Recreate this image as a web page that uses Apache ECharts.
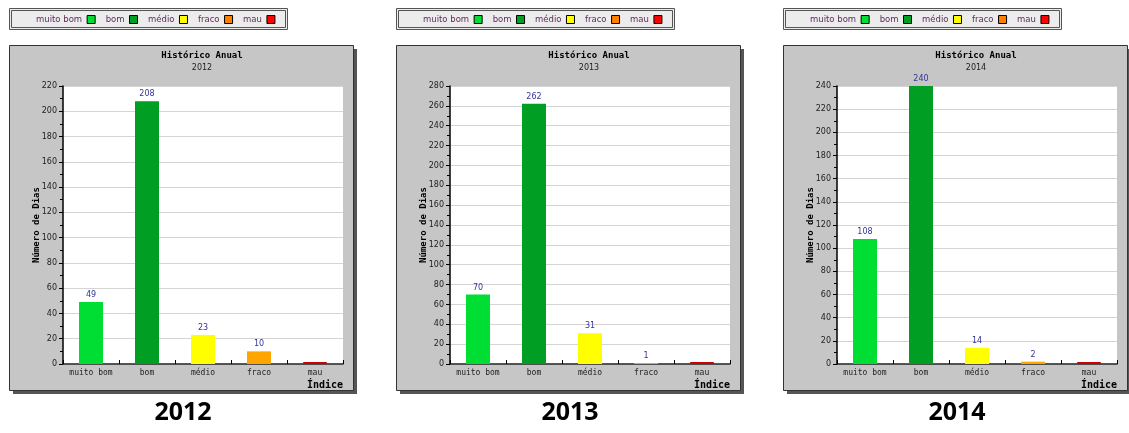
<!DOCTYPE html>
<html><head><meta charset="utf-8">
<script src="https://cdn.jsdelivr.net/npm/echarts@6/dist/echarts.min.js"></script>
<style>html,body{margin:0;padding:0;background:#fff}#c{width:1129px;height:433px}</style>
</head><body><div id="c"></div>
<script>
const categories = ['muito bom', 'bom', 'médio', 'fraco', 'mau'];
const years = ['2012', '2013', '2014'];
const values2012 = [49, 208, 23, 10, 0];
const values2013 = [70, 262, 31, 1, 0];
const values2014 = [108, 240, 14, 2, 0];
const yMaxByYear = [220, 280, 240];
const yInterval = 20;
const chartTitle = 'Histórico Anual';
const yAxisTitle = 'Número de Dias';
const xAxisTitle = 'Índice';
const barColors = ['#00dd33', '#009f24', '#ffff00', '#ffa500', '#cc0000'];
const legendColors = ['#00dd33', '#009f24', '#ffff00', '#ff7f00', '#ff0000'];

const allValues = [values2012, values2013, values2014];
const panelStep = 387, panelX0 = 9, panelW = 344, panelTop = 45, panelH = 345;
const MONO = '"DejaVu Sans Mono", monospace';
const SANS = '"DejaVu Sans", sans-serif';

const grids = [], xAxes = [], yAxes = [], series = [], legends = [], titles = [], graphics = [];

years.forEach((yr, i) => {
  const px = panelX0 + panelStep * i;
  graphics.push({type: 'rect', z: -10, shape: {x: px + 4, y: panelTop + 4, width: panelW, height: panelH}, style: {fill: '#555'}});
  graphics.push({type: 'rect', z: -9, shape: {x: px + 0.5, y: panelTop + 0.5, width: panelW, height: panelH}, style: {fill: '#c6c6c6', stroke: '#333', lineWidth: 1}});
  graphics.push({type: 'rect', z: -9, shape: {x: px + 0.5, y: 8.5, width: 278, height: 21}, style: {fill: '#ececec', stroke: '#555', lineWidth: 1}});
  graphics.push({type: 'rect', z: -8, shape: {x: px + 2.5, y: 10.5, width: 274, height: 17}, style: {fill: 'none', stroke: '#555', lineWidth: 1}});

  grids.push({left: px + 54, top: 86, width: 280, height: 278, show: true, backgroundColor: '#fff', borderWidth: 0});
  xAxes.push({
    type: 'category', gridIndex: i, data: categories,
    axisLine: {lineStyle: {color: '#222', width: 1.5}},
    axisTick: {show: true, inside: true, length: 4, lineStyle: {color: '#000'}},
    axisLabel: {interval: 0, fontFamily: MONO, fontSize: 8, color: '#222', margin: 5},
    name: xAxisTitle, nameLocation: 'end', nameGap: 0, nameMoveOverlap: false,
    nameTextStyle: {fontFamily: MONO, fontSize: 10, fontWeight: 'bold', color: '#000', align: 'right', verticalAlign: 'top', padding: [16, 0, 0, 0]}
  });
  yAxes.push({
    type: 'value', gridIndex: i, min: 0, max: yMaxByYear[i], interval: yInterval,
    axisLine: {show: true, lineStyle: {color: '#000', width: 1.5}},
    axisTick: {show: true, length: 4, lineStyle: {color: '#000'}},
    minorTick: {show: true, splitNumber: 2, length: 3, lineStyle: {color: '#000'}},
    axisLabel: {fontFamily: SANS, fontSize: 8, color: '#222', margin: 6},
    splitLine: {lineStyle: {color: '#d4d4d4', width: 1}},
    name: yAxisTitle, nameLocation: 'middle', nameGap: 22, nameRotate: 90, nameMoveOverlap: false,
    nameTextStyle: {fontFamily: MONO, fontSize: 9, fontWeight: 'bold', color: '#000'}
  });
  categories.forEach((cat, j) => {
    series.push({
      type: 'bar', name: cat, xAxisIndex: i, yAxisIndex: i, stack: 's' + i,
      barWidth: 24, barMinHeight: j === 4 ? 2 : 0,
      itemStyle: j === 4 ? {color: barColors[j], borderColor: barColors[j], borderWidth: 1} : {color: barColors[j]},
      label: {show: true, position: 'top', distance: 3, fontFamily: SANS, fontSize: 8, color: '#33339a',
        formatter: p => (p.value ? String(p.value) : '')},
      data: categories.map((c, k) => (k === j ? allValues[i][j] : null))
    });
  });
  legends.push({
    left: px + 27, top: 15, padding: 0, itemGap: 10, itemWidth: 8, itemHeight: 8, align: 'right', icon: 'rect',
    selectedMode: false,
    itemStyle: {borderColor: '#000', borderWidth: 1},
    textStyle: {fontFamily: SANS, fontSize: 8.5, color: '#5e2a5e'},
    data: categories.map((c, j) => ({name: c, itemStyle: {color: legendColors[j], borderColor: '#000', borderWidth: 1}}))
  });
  titles.push({
    text: chartTitle, subtext: yr, left: px + 193, top: 51, textAlign: 'center', padding: 0, itemGap: 4,
    textStyle: {fontFamily: MONO, fontSize: 9, fontWeight: 'bold', color: '#000'},
    subtextStyle: {fontFamily: SANS, fontSize: 8, color: '#222'}
  });
  titles.push({
    text: yr, left: px + 174, top: 400, textAlign: 'center', padding: 0,
    textStyle: {fontFamily: '"Open Sans", sans-serif', fontSize: 25, fontWeight: 'bold', color: '#000'}
  });
});

const chart = echarts.init(document.getElementById('c'), null, {renderer: 'canvas'});
chart.setOption({
  animation: false,
  backgroundColor: '#fff',
  title: titles,
  legend: legends,
  grid: grids,
  xAxis: xAxes,
  yAxis: yAxes,
  series: series,
  graphic: {elements: graphics}
});
</script></body></html>
